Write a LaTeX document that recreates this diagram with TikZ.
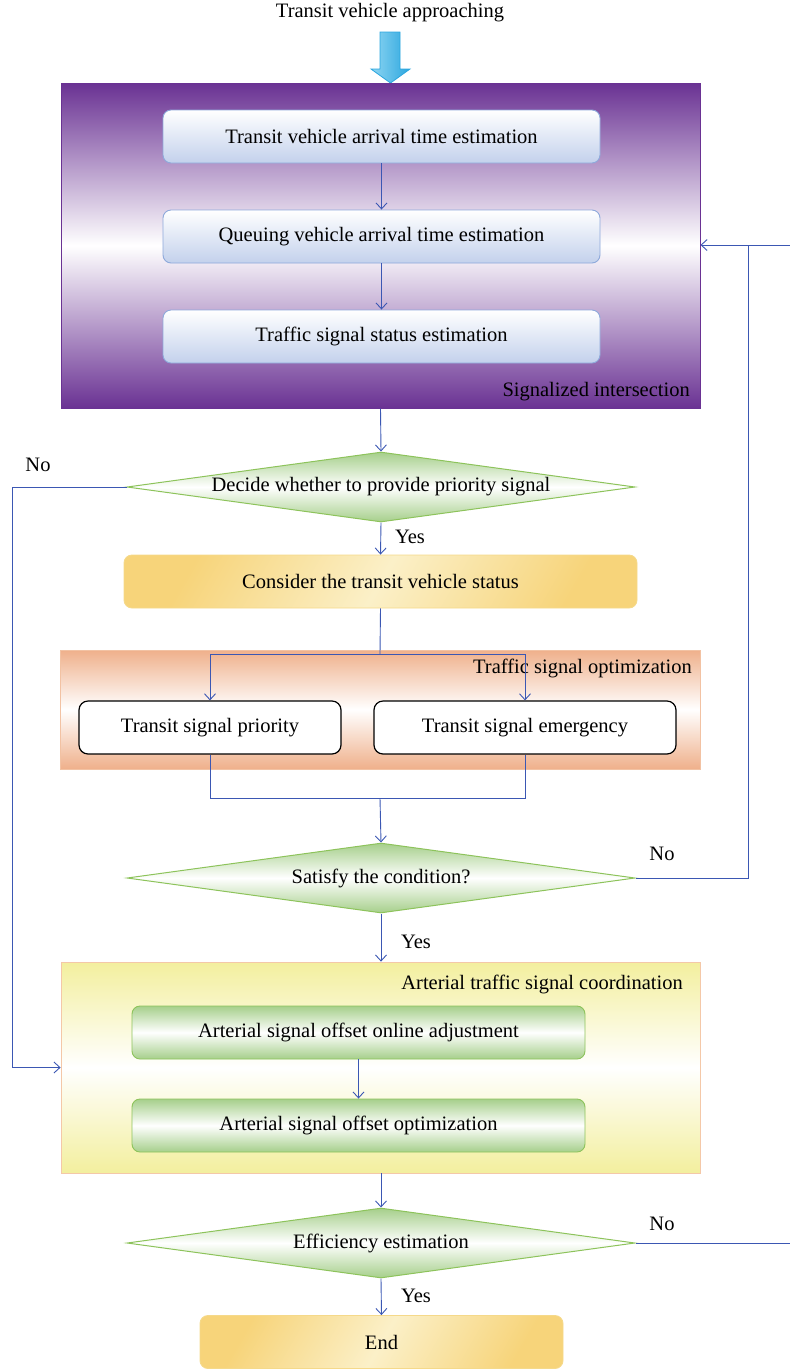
\documentclass[tikz,border=0pt]{standalone}
\usepackage{fontspec}
\setmainfont{Liberation Serif}
\usetikzlibrary{arrows.meta,shapes.geometric,calc}
\definecolor{linec}{HTML}{3B57B3}
\definecolor{purp}{HTML}{6A3293}
\definecolor{bluebd}{HTML}{8EA9DB}
\definecolor{bluebt}{HTML}{C3D1EC}
\definecolor{greenf}{HTML}{A6CF8B}
\definecolor{greenbd}{HTML}{8DC35B}
\definecolor{yelf}{HTML}{F7D47A}
\definecolor{yell}{HTML}{FBF0C8}
\definecolor{yelbd}{HTML}{F5D98A}
\definecolor{salm}{HTML}{EFB08B}
\definecolor{salmbd}{HTML}{F2C2A3}
\definecolor{lemon}{HTML}{F3EF9E}
\definecolor{lemonbd}{HTML}{F4C8A8}
\definecolor{skyA}{HTML}{8FD6F2}
\definecolor{skyB}{HTML}{2BA6DF}
\tikzset{
  txt/.style={font=\fontsize{20.5}{24}\selectfont, inner sep=0pt},
  conn/.style={draw=linec, line width=0.9pt},
  arr/.style={conn, -{Straight Barb[length=6pt,width=11pt,line width=0.9pt]}},
  container/.style={rectangle, inner sep=0pt},
  bluebox/.style={txt, rectangle, rounded corners=8pt, draw=bluebd, line width=0.9pt, top color=white, bottom color=bluebt, minimum width=437pt, minimum height=53pt},
  greenbox/.style={txt, rectangle, rounded corners=8pt, draw=greenbd, line width=0.9pt, top color=greenf, bottom color=greenf, middle color=white, minimum width=453pt, minimum height=53pt},
  whitebox/.style={txt, rectangle, rounded corners=9pt, draw=black, line width=1.2pt, fill=white, minimum height=53pt},
  yelbox/.style={txt, rectangle, rounded corners=8pt, draw=yelbd, line width=0.9pt, left color=yelf, right color=yelf, middle color=yell, shading angle=60, minimum height=53pt},
  dia/.style={txt, shape=diamond, aspect=7.26, draw=greenbd, line width=1pt, top color=greenf, bottom color=greenf, middle color=white, minimum width=508pt, minimum height=70pt},
}
\begin{document}
\begin{tikzpicture}[x=1pt,y=1pt]
\useasboundingbox (0,0) rectangle (790,-1369);
% title and fat arrow
\node[txt] (title) at (390,-13) {Transit vehicle approaching};
\path[draw=skyB, line width=0.8pt, left color=skyA, right color=skyB]
  (380,-32) -- (400,-32) -- (400,-69) -- (410,-69) -- (390.5,-83) -- (371,-69) -- (380,-69) -- cycle;
% signalized intersection container
\node[container, draw=purp, line width=1pt, top color=purp, bottom color=purp, middle color=white, minimum width=639pt, minimum height=325pt] (si) at (380.5,-245.5) {};
\node[txt, anchor=east] (silab) at (690,-392) {Signalized intersection};
\node[bluebox] (b1) at (381.5,-136.5) {Transit vehicle arrival time estimation};
\node[bluebox] (b2) at (381.5,-236.5) {Queuing vehicle arrival time estimation};
\node[bluebox] (b3) at (381.5,-336.5) {Traffic signal status estimation};
\draw[arr] (b1.south) -- (b2.north);
\draw[arr] (b2.south) -- (b3.north);
% decision 1
\node[dia] (d1) at (381,-487) {Decide whether to provide priority signal};
\draw[arr] (si.south) -- (d1.north);
\node[txt] (no1) at (38,-465) {No};
\node[txt] (yes1) at (410,-537) {Yes};
\node[yelbox, minimum width=513pt] (cons) at (380.5,-581.5) {Consider the transit vehicle status};
\draw[arr] (d1.south) -- (cons.north);
% traffic signal optimization container
\node[container, draw=salmbd, line width=0.8pt, top color=salm, bottom color=salm, middle color=white, minimum width=640pt, minimum height=119pt] (tso) at (380,-709.5) {};
\node[txt, anchor=east] (tsolab) at (692,-668) {Traffic signal optimization};
\node[whitebox, minimum width=262pt] (tsp) at (210,-727.5) {Transit signal priority};
\node[whitebox, minimum width=302pt] (tse) at (525,-727.5) {Transit signal emergency};
\coordinate (split) at (380,-654);
\coordinate (merge) at (380,-798);
\draw[conn] (cons.south) -- (split);
\draw[arr] (split) -| (tsp.north);
\draw[arr] (split) -| (tse.north);
\draw[conn] (tsp.south) |- (merge) -| (tse.south);
% decision 2
\node[dia] (d2) at (381,-878) {Satisfy the condition?};
\draw[arr] (merge) -- (d2.north);
\node[txt] (no2) at (662,-854) {No};
\node[txt] (yes2) at (416,-942) {Yes};
% arterial coordination container
\node[container, draw=lemonbd, line width=0.8pt, top color=lemon, bottom color=lemon, middle color=white, minimum width=639pt, minimum height=211pt] (atsc) at (380.5,-1067.5) {};
\node[txt, anchor=east] (atsclab) at (683,-984) {Arterial traffic signal coordination};
\node[greenbox] (g1) at (358.5,-1032.5) {Arterial signal offset online adjustment};
\node[greenbox] (g2) at (358.5,-1125.5) {Arterial signal offset optimization};
\draw[arr] (g1.south) -- (g2.north);
\draw[arr] (d2.south) -- (d2.south |- atsc.north);
% decision 3
\node[dia] (d3) at (381,-1243) {Efficiency estimation};
\draw[arr] (d2.south |- atsc.south) -- (d3.north);
\node[txt] (no3) at (662,-1224) {No};
\node[txt] (yes3) at (416,-1296) {Yes};
\node[yelbox, minimum width=363pt] (endn) at (381.5,-1342) {End};
\draw[arr] (d3.south) -- (endn.north);
% loops
\coordinate (lc) at (12,-487);
\draw[arr] (d1.west) -- (lc) |- (atsc.west);
\coordinate (j) at (748,-245);
\coordinate (rt) at (790,-245);
\coordinate (rb) at (790,-1243);
\draw[conn] (d2.east) -| (j);
\draw[arr] (rt) -- (si.east |- j);
\draw[conn] (d3.east) -- (rb);
\end{tikzpicture}
\end{document}
